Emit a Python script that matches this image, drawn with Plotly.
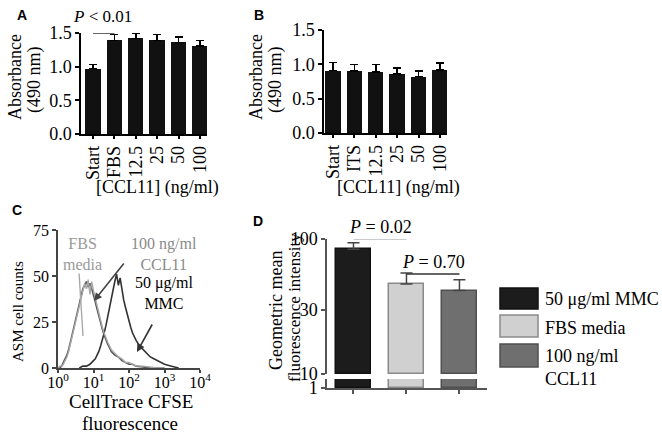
import plotly.graph_objects as go

W, H = 662, 433

# ---- data ----
a_labels = ["Start", "FBS", "12.5", "25", "50", "100"]
a_vals = [0.97, 1.39, 1.42, 1.39, 1.36, 1.31]
a_err = [0.06, 0.09, 0.08, 0.09, 0.08, 0.08]

b_labels = ["Start", "ITS", "12.5", "25", "50", "100"]
b_vals = [0.91, 0.90, 0.89, 0.86, 0.82, 0.92]
b_err = [0.12, 0.10, 0.11, 0.09, 0.08, 0.10]

# panel C: histogram traces, x in decades (log10 of fluorescence)
left_x = [0.0, 0.05, 0.1, 0.15, 0.2, 0.25, 0.3, 0.35, 0.4, 0.45, 0.5, 0.55, 0.6, 0.65,
          0.7, 0.75, 0.8, 0.85, 0.9, 0.95, 1.0, 1.05, 1.1, 1.15, 1.2, 1.25, 1.3, 1.35,
          1.4, 1.45, 1.5, 1.6, 1.7, 1.8, 1.9, 2.0, 2.1, 2.2, 2.4, 2.6, 2.8, 3.0]
fbs_counts = [0, 1, 1, 2, 4, 6, 9, 13, 17, 22, 26, 30, 34, 38, 41, 46, 43, 48, 40, 47,
              42, 38, 33, 30, 26, 22, 19, 16, 14, 12, 10, 8, 6, 5, 3, 3, 2, 1, 1, 0.5, 0, 0]
ccl_counts = [0, 0, 1, 3, 5, 7, 10, 14, 18, 23, 27, 31, 35, 39, 43, 45, 47, 44, 46, 43,
              40, 36, 32, 28, 25, 21, 18, 15, 13, 11, 9, 7, 6, 4, 3, 2, 2, 1, 0.5, 0, 0, 0]
right_x = [0.6, 0.7, 0.8, 0.9, 1.0, 1.05, 1.1, 1.15, 1.2, 1.25, 1.3, 1.35, 1.4, 1.45,
           1.5, 1.55, 1.6, 1.65, 1.7, 1.75, 1.8, 1.85, 1.9, 1.95, 2.0, 2.05, 2.1, 2.15,
           2.2, 2.3, 2.4, 2.5, 2.6, 2.7, 2.8, 3.0, 3.2, 3.4]
mmc_counts = [0, 1, 1, 2, 4, 5, 7, 9, 12, 15, 19, 23, 28, 33, 38, 44, 47, 51, 45, 49,
              42, 37, 33, 29, 25, 22, 19, 17, 15, 12, 10, 8, 6, 5, 4, 2, 1, 0]
c_ticks = [0, 1, 2, 3, 4]
c_ticktext = ["10<sup>0</sup>", "10<sup>1</sup>", "10<sup>2</sup>", "10<sup>3</sup>", "10<sup>4</sup>"]

d_labels = ["50 \u03bcg/ml MMC", "FBS media", "100 ng/ml<br>CCL11"]
d_vals = [74, 36.5, 31.5]
d_err = [10, 9.5, 8.5]
d_fill = ["#1c1c1c", "#d0d0d0", "#6f6f6f"]
d_line = ["#111111", "#8a8a8a", "#505050"]

SERIF = "Liberation Serif"
SANS = "Liberation Sans"


def fx(p):
    return p / W


def fy(p):
    return 1 - p / H


axis_common = dict(showline=True, linecolor="black", linewidth=1.5, ticks="outside",
                   ticklen=4, tickwidth=1.5, tickcolor="black", showgrid=False,
                   zeroline=False, automargin=False,
                   tickfont=dict(family=SERIF, size=18, color="black"))

fig = go.Figure()

# A
fig.add_trace(go.Bar(x=list(range(6)), y=a_vals, width=0.72, marker=dict(color="#111111", line=dict(width=0)),
                     error_y=dict(type="data", array=a_err, arrayminus=[0] * 6, symmetric=False,
                                  color="black", thickness=1.5, width=4),
                     xaxis="x", yaxis="y", showlegend=False))
fig.add_trace(go.Scatter(x=[0, 1], y=[1.5, 1.5], mode="lines", line=dict(color="black", width=1.2),
                         xaxis="x", yaxis="y", showlegend=False, cliponaxis=False))
# B
fig.add_trace(go.Bar(x=list(range(6)), y=b_vals, width=0.72, marker=dict(color="#111111", line=dict(width=0)),
                     error_y=dict(type="data", array=b_err, arrayminus=[0] * 6, symmetric=False,
                                  color="black", thickness=1.5, width=4),
                     xaxis="x2", yaxis="y2", showlegend=False))
# C
fig.add_trace(go.Scatter(x=right_x, y=mmc_counts, mode="lines", line=dict(color="#333333", width=1.6),
                         xaxis="x3", yaxis="y3", showlegend=False))
fig.add_trace(go.Scatter(x=left_x, y=ccl_counts, mode="lines", line=dict(color="#555555", width=1.6),
                         xaxis="x3", yaxis="y3", showlegend=False))
fig.add_trace(go.Scatter(x=left_x, y=fbs_counts, mode="lines", line=dict(color="#a8a8a8", width=1.4),
                         xaxis="x3", yaxis="y3", showlegend=False))
# D (upper segment 10-100, lower segment 1-2 of a broken log axis)
for ya in ["y4", "y5"]:
    fig.add_trace(go.Bar(x=[0, 1, 2], y=d_vals, base=[1, 1, 1] if ya == "y5" else [10, 10, 10],
                         width=0.66, marker=dict(color=d_fill, line=dict(color=d_line, width=1.5)),
                         error_y=dict(type="data", array=d_err, arrayminus=[0, 0, 0], symmetric=False,
                                      color="#444444", thickness=1.5, width=6) if ya == "y4" else None,
                         xaxis="x4", yaxis=ya, showlegend=False))
fig.add_trace(go.Scatter(x=[0, 1], y=[101, 101], mode="lines", line=dict(color="#333333", width=1.5),
                         xaxis="x4", yaxis="y4", showlegend=False, cliponaxis=False))
fig.add_trace(go.Scatter(x=[1, 2], y=[55, 55], mode="lines", line=dict(color="#333333", width=1.5),
                         xaxis="x4", yaxis="y4", showlegend=False, cliponaxis=False))

layout = dict(
    template="none",
    width=W, height=H, margin=dict(l=0, r=0, t=0, b=0, pad=0), autosize=False,
    font=dict(family=SERIF, size=18, color="black"),
    plot_bgcolor="white", paper_bgcolor="white", bargap=0,
    xaxis=dict(axis_common, domain=[fx(81), fx(207)], range=[-0.56, 5.33], anchor="y",
               tickvals=list(range(6)), ticktext=a_labels, tickangle=-90, ticklen=3),
    yaxis=dict(axis_common, domain=[fy(134), fy(33)], range=[0, 1.5], anchor="x",
               tickvals=[0, 0.5, 1.0, 1.5], ticktext=["0.0", "0.5", "1.0", "1.5"]),
    xaxis2=dict(axis_common, domain=[fx(324), fx(447)], range=[-0.42, 5.33], anchor="y2",
                tickvals=list(range(6)), ticktext=b_labels, tickangle=-90, ticklen=3),
    yaxis2=dict(axis_common, domain=[fy(133), fy(30)], range=[0, 1.5], anchor="x2",
                tickvals=[0, 0.5, 1.0, 1.5], ticktext=["0.0", "0.5", "1.0", "1.5"]),
    xaxis3=dict(axis_common, domain=[fx(58), fx(200)], range=[0, 4], anchor="y3",
                tickvals=c_ticks, ticktext=c_ticktext, linecolor="#444444", tickcolor="#444444",
                ticklen=3, ticklabelstandoff=-4,
                tickfont=dict(family=SERIF, size=16, color="black")),
    yaxis3=dict(axis_common, domain=[fy(368), fy(230)], range=[0, 75], anchor="x3",
                tickvals=[0, 25, 50, 75], linecolor="#444444", tickcolor="#444444",
                tickfont=dict(family=SERIF, size=16, color="black")),
    xaxis4=dict(axis_common, domain=[fx(327), fx(487)], range=[-0.5, 2.52], anchor="y5",
                tickvals=[0, 1, 2], showticklabels=False, linecolor="#555555", tickcolor="#555555"),
    yaxis4=dict(axis_common, domain=[fy(374), fy(239)], type="log", range=[1, 2], anchor="x4",
                tickvals=[10, 30, 100], ticktext=["10", "30", "100"],
                linecolor="#555555", tickcolor="#555555"),
    yaxis5=dict(axis_common, domain=[fy(388), fy(379)], type="log", range=[0, 0.3], anchor="x4",
                tickvals=[1, 2], ticktext=["1", ""], linecolor="#555555", tickcolor="#555555"),
)

ann = []


def text(x, y, s, size=18, color="black", angle=0, family=SERIF, xanchor="center", **kw):
    ann.append(dict(x=fx(x), y=fy(y), xref="paper", yref="paper", text=s, showarrow=False,
                    xanchor=xanchor, yanchor="middle", textangle=angle,
                    font=dict(family=family, size=size, color=color), **kw))


def arrow(x0, y0, x1, y1, color, head=2, width=1.6):
    # tip at (x0, y0), tail at (x1, y1), pixel coordinates
    ann.append(dict(x=fx(x0), y=fy(y0), ax=x1 - x0, ay=y1 - y0, xref="paper", yref="paper",
                    axref="pixel", ayref="pixel", text="", showarrow=True, arrowhead=head,
                    arrowsize=1, arrowwidth=width, arrowcolor=color))


# panel letters
text(22, 15, "<b>A</b>", size=14, family=SANS)
text(259, 15, "<b>B</b>", size=14, family=SANS)
text(17, 210, "<b>C</b>", size=14, family=SANS)
text(258, 221, "<b>D</b>", size=14, family=SANS)

# A / B titles
text(15, 77, "Absorbance", angle=-90)
text(34, 80, "(490 nm)", angle=-90)
text(256, 77, "Absorbance", angle=-90)
text(275, 80, "(490 nm)", angle=-90)
text(157, 187, "[CCL11] (ng/ml)")
text(398, 187, "[CCL11] (ng/ml)")
text(102, 16, "<i>P</i> < 0.01", size=17)

# C
text(18, 312, "ASM cell counts", angle=-90, size=15)
text(131, 401, "CellTrace CFSE", size=19)
text(130, 423, "fluorescence", size=19)
text(82, 254, "FBS<br>media", color="#9a9a9a", size=16)
text(164, 254, "100 ng/ml<br>CCL11", color="#8a8a8a", size=16)
text(164, 293, "50 \u03bcg/ml<br>MMC", size=16)
arrow(94, 301, 125, 262, "#444444")
arrow(137, 352, 153, 323, "#333333")
arrow(83, 336, 79, 272, "#a8a8a8", head=0, width=1.4)

# D
text(276, 311, "Geometric mean", angle=-90)
text(294, 308, "fluorescence intensity", angle=-90, size=17)
text(380, 227, "<i>P</i> = 0.02")
text(433, 262, "<i>P</i> = 0.70")

shapes = []
box_y = [(288, 309), (315, 337), (344, 367)]
text_y = [299, 328, 367]
for i in range(3):
    shapes.append(dict(type="rect", xref="paper", yref="paper", x0=fx(500), x1=fx(538),
                       y0=fy(box_y[i][1]), y1=fy(box_y[i][0]), fillcolor=d_fill[i],
                       line=dict(color=d_line[i], width=1.5)))
    text(543, text_y[i], d_labels[i], xanchor="left", align="left")

layout["annotations"] = ann
layout["shapes"] = shapes
fig.update_layout(**layout)

# drop the browser's default 8px page margin so the figure sits at the window corner
fig.write_html("out.html", config={"displayModeBar": False},
               post_script="document.body.style.margin = '0';")
